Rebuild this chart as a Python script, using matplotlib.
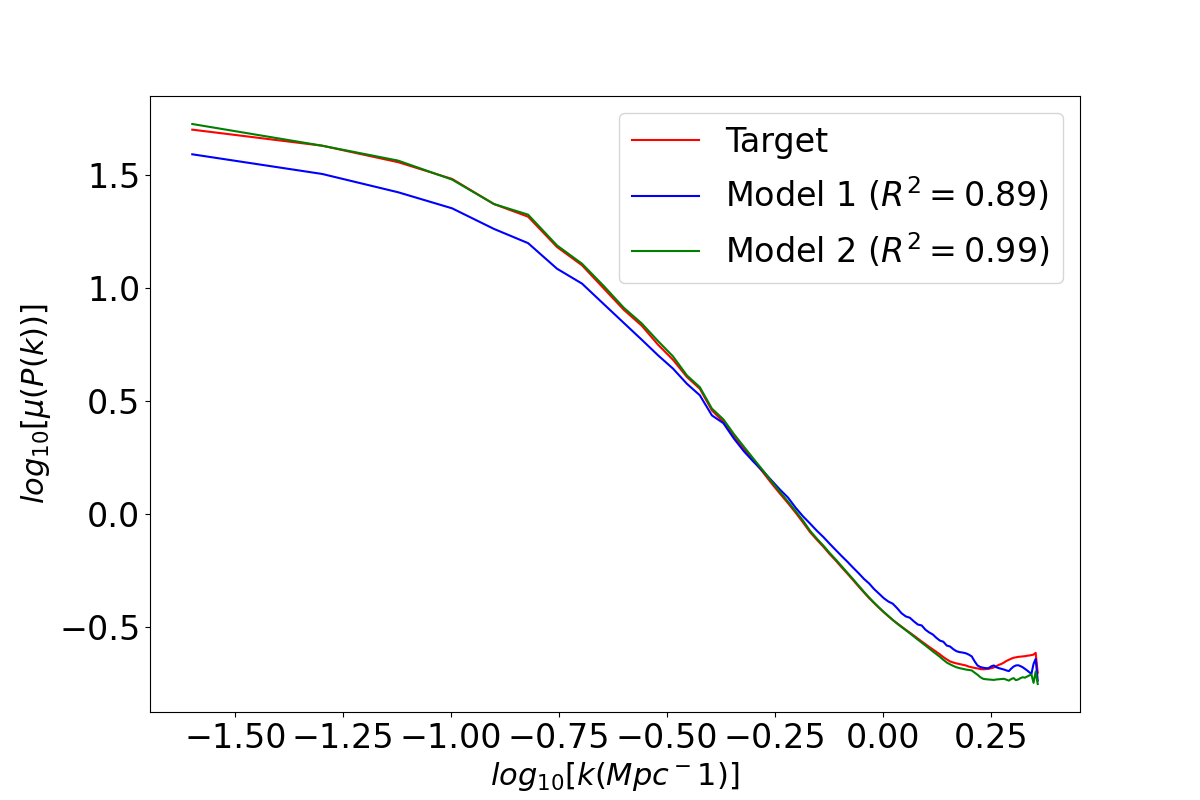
import numpy as np
import matplotlib
matplotlib.use("Agg")
import matplotlib.pyplot as plt

# k bins: multiples of the fundamental mode of a 250 Mpc box
k_fundamental = 2 * np.pi / 250.0
k_index = [1, 2, 3, 4, 5, 6, 7, 8, 9, 10,
           11, 12, 13, 14, 15, 16, 17, 18, 19, 20,
           21, 22, 23, 24, 25, 26, 27, 28, 29, 30,
           31, 32, 33, 34, 35, 36, 37, 38, 39, 40,
           41, 42, 43, 44, 45, 46, 47, 48, 49, 50,
           51, 52, 53, 54, 55, 56, 57, 58, 59, 60,
           61, 62, 63, 64, 65, 66, 67, 68, 69, 70,
           71, 72, 73, 74, 75, 76, 77, 78, 79, 80,
           81, 82, 83, 84, 85, 86, 87, 88, 89, 90, 91]

target = [1.702, 1.631, 1.558, 1.484, 1.373, 1.317, 1.183, 1.102, 0.998, 0.905,
          0.835, 0.751, 0.684, 0.608, 0.556, 0.460, 0.410, 0.345, 0.288, 0.236,
          0.187, 0.137, 0.092, 0.050, 0.008, -0.035, -0.078, -0.112, -0.143, -0.176,
          -0.205, -0.235, -0.263, -0.291, -0.319, -0.345, -0.370, -0.392, -0.413, -0.432,
          -0.450, -0.467, -0.482, -0.496, -0.510, -0.523, -0.536, -0.549, -0.562, -0.574,
          -0.586, -0.597, -0.608, -0.619, -0.631, -0.641, -0.650, -0.655, -0.659, -0.662,
          -0.665, -0.668, -0.673, -0.676, -0.679, -0.681, -0.684, -0.685, -0.684, -0.683,
          -0.680, -0.677, -0.671, -0.665, -0.661, -0.655, -0.648, -0.643, -0.638, -0.634,
          -0.632, -0.630, -0.629, -0.628, -0.627, -0.625, -0.624, -0.622, -0.620, -0.612, -0.700]

model1 = [1.593, 1.506, 1.425, 1.354, 1.263, 1.200, 1.087, 1.021, 0.929, 0.847,
          0.773, 0.704, 0.645, 0.578, 0.527, 0.438, 0.404, 0.335, 0.278, 0.232,
          0.192, 0.150, 0.110, 0.075, 0.030, -0.008, -0.040, -0.072, -0.100, -0.130,
          -0.158, -0.185, -0.210, -0.236, -0.260, -0.285, -0.305, -0.330, -0.350, -0.370,
          -0.385, -0.395, -0.415, -0.437, -0.451, -0.457, -0.473, -0.487, -0.491, -0.510,
          -0.522, -0.531, -0.546, -0.558, -0.563, -0.580, -0.584, -0.596, -0.605, -0.609,
          -0.611, -0.614, -0.620, -0.628, -0.650, -0.668, -0.675, -0.678, -0.680, -0.680,
          -0.672, -0.668, -0.676, -0.680, -0.683, -0.686, -0.690, -0.693, -0.682, -0.673,
          -0.668, -0.667, -0.671, -0.676, -0.683, -0.690, -0.698, -0.705, -0.661, -0.639, -0.735]

model2 = [1.727, 1.631, 1.565, 1.481, 1.373, 1.326, 1.190, 1.109, 1.009, 0.914,
          0.845, 0.767, 0.699, 0.615, 0.563, 0.468, 0.421, 0.355, 0.298, 0.245,
          0.195, 0.145, 0.100, 0.057, 0.015, -0.027, -0.072, -0.107, -0.138, -0.171,
          -0.200, -0.230, -0.259, -0.287, -0.315, -0.342, -0.367, -0.390, -0.411, -0.431,
          -0.449, -0.467, -0.483, -0.498, -0.512, -0.526, -0.540, -0.554, -0.567, -0.580,
          -0.593, -0.606, -0.618, -0.630, -0.643, -0.655, -0.663, -0.670, -0.676, -0.680,
          -0.683, -0.686, -0.688, -0.690, -0.700, -0.709, -0.720, -0.727, -0.729, -0.730,
          -0.731, -0.732, -0.730, -0.729, -0.728, -0.727, -0.731, -0.735, -0.728, -0.724,
          -0.733, -0.730, -0.724, -0.720, -0.722, -0.717, -0.712, -0.708, -0.745, -0.695, -0.750]

labels = ["Target", r"Model 1 ($R^2=0.89$)", r"Model 2 ($R^2=0.99$)"]
colors = ["red", "blue", "green"]

log_k = np.log10(k_fundamental * np.array(k_index, dtype=float))

fig, ax = plt.subplots(figsize=(12, 8), dpi=100)
for series, lab, col in zip([target, model1, model2], labels, colors):
    ax.plot(log_k, series, color=col, label=lab, linewidth=1.5)

ax.set_xlabel(r"$log_{10}[k(Mpc^-1)]$", fontsize=22)
ax.set_ylabel(r"$log_{10}[\mu(P(k))]$", fontsize=22)
ax.tick_params(axis="both", labelsize=24)
ax.legend(fontsize=24, loc="upper right")

fig.savefig("out.png", dpi=100)
